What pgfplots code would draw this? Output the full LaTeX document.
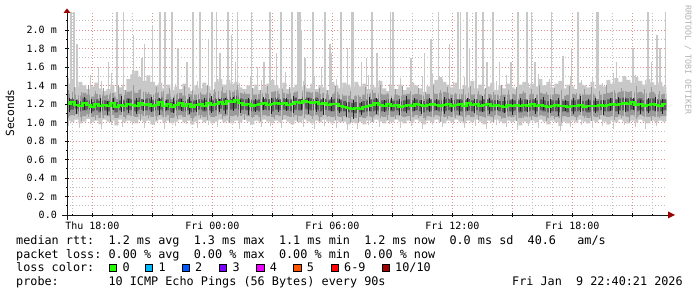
\documentclass[border=0pt]{standalone}
\usepackage{pgfplots}
\pgfplotsset{compat=1.18}
\usepackage{pgfplotstable}
\usepgfplotslibrary{fillbetween}
\usepackage{fontspec}
\setmainfont{DejaVu Sans Mono}
\newfontfamily\mono{DejaVu Sans Mono}
\newcommand\legfont{\mono\fontsize{11.8pt}{14pt}\selectfont}
\newcommand\tickfont{\mono\fontsize{10pt}{12pt}\selectfont}
\definecolor{smokeA}{HTML}{C8C8C8}
\definecolor{smokeB}{HTML}{9A9A9A}
\definecolor{smokeC}{HTML}{5C5C5C}
\definecolor{smokeD}{HTML}{202020}
\definecolor{medgreen}{HTML}{26FF00}
\definecolor{mgrid}{HTML}{E98C8C}
\definecolor{ngrid}{HTML}{C0C0C0}
\definecolor{arrowred}{HTML}{990000}
\definecolor{lc1}{HTML}{00B8FF}
\definecolor{lc2}{HTML}{0059FF}
\definecolor{lc3}{HTML}{7E00FF}
\definecolor{lc4}{HTML}{EE00FF}
\definecolor{lc5}{HTML}{FF5500}
\definecolor{lc6}{HTML}{FF0000}
\definecolor{lc10}{HTML}{A10000}
\pgfplotstableread{
h a b c m d e f
16.7 1.02 1.07 1.13 1.20 1.25 1.31 1.42
16.9 1.00 1.08 1.14 1.22 1.27 1.33 1.46
17.1 1.03 1.09 1.15 1.19 1.24 1.30 1.38
17.3 0.99 1.06 1.12 1.18 1.23 1.29 1.44
17.5 1.01 1.07 1.13 1.21 1.26 1.32 1.40
17.7 1.04 1.09 1.14 1.19 1.24 1.30 1.36
17.9 1.00 1.06 1.12 1.17 1.22 1.28 1.39
18.1 1.02 1.08 1.13 1.20 1.25 1.31 1.43
18.3 0.98 1.05 1.11 1.18 1.23 1.30 1.37
18.5 1.03 1.08 1.13 1.19 1.24 1.29 1.34
18.7 1.01 1.07 1.12 1.18 1.23 1.30 1.36
18.9 1.02 1.08 1.14 1.21 1.26 1.32 1.41
19.1 0.97 1.05 1.11 1.17 1.22 1.28 1.33
19.3 1.03 1.08 1.13 1.19 1.24 1.31 1.38
19.5 1.00 1.06 1.12 1.18 1.24 1.30 1.35
19.7 1.02 1.08 1.14 1.20 1.26 1.33 1.47
19.9 1.01 1.07 1.13 1.19 1.25 1.34 1.52
20.1 0.99 1.06 1.12 1.18 1.24 1.32 1.56
20.3 1.03 1.09 1.14 1.21 1.27 1.35 1.49
20.5 1.00 1.07 1.13 1.19 1.25 1.33 1.45
20.7 1.02 1.08 1.13 1.20 1.26 1.31 1.51
20.9 0.98 1.06 1.12 1.18 1.24 1.30 1.44
21.1 1.01 1.07 1.13 1.19 1.25 1.32 1.40
21.3 1.03 1.08 1.14 1.22 1.27 1.33 1.43
21.5 1.00 1.06 1.12 1.18 1.23 1.29 1.37
21.7 1.02 1.08 1.13 1.20 1.25 1.31 1.41
21.9 0.99 1.05 1.11 1.17 1.22 1.28 1.35
22.1 1.01 1.07 1.13 1.19 1.24 1.30 1.39
22.3 1.03 1.08 1.14 1.21 1.26 1.32 1.36
22.5 1.00 1.06 1.12 1.18 1.23 1.29 1.42
22.7 1.02 1.08 1.13 1.20 1.25 1.31 1.38
22.9 0.98 1.05 1.11 1.17 1.23 1.30 1.34
23.1 1.01 1.07 1.13 1.19 1.24 1.30 1.40
23.3 1.03 1.08 1.14 1.20 1.25 1.31 1.37
23.5 1.00 1.06 1.12 1.18 1.24 1.30 1.43
23.7 1.02 1.08 1.13 1.21 1.26 1.32 1.39
23.9 0.99 1.06 1.12 1.19 1.24 1.31 1.35
24.1 1.01 1.07 1.13 1.20 1.26 1.33 1.44
24.3 1.03 1.09 1.15 1.22 1.27 1.34 1.47
24.5 1.00 1.07 1.13 1.20 1.26 1.32 1.41
24.7 1.02 1.08 1.14 1.23 1.28 1.35 1.46
24.9 0.99 1.07 1.14 1.22 1.27 1.33 1.42
25.1 1.02 1.08 1.15 1.24 1.29 1.35 1.44
25.3 1.00 1.07 1.13 1.21 1.26 1.32 1.38
25.5 1.03 1.09 1.14 1.19 1.25 1.31 1.36
25.7 1.01 1.07 1.13 1.20 1.25 1.31 1.40
25.9 0.98 1.06 1.12 1.18 1.24 1.30 1.37
26.1 1.02 1.08 1.13 1.19 1.24 1.30 1.41
26.3 1.00 1.06 1.12 1.20 1.25 1.31 1.35
26.5 1.03 1.08 1.14 1.21 1.26 1.32 1.39
26.7 1.01 1.07 1.13 1.19 1.25 1.31 1.42
26.9 0.99 1.06 1.12 1.20 1.26 1.33 1.46
27.1 1.02 1.08 1.14 1.21 1.27 1.34 1.40
27.3 1.00 1.07 1.13 1.20 1.25 1.31 1.37
27.5 1.03 1.08 1.14 1.21 1.26 1.32 1.43
27.7 1.01 1.07 1.13 1.19 1.25 1.31 1.36
27.9 0.98 1.06 1.12 1.20 1.25 1.32 1.38
28.1 1.02 1.08 1.14 1.22 1.27 1.33 1.41
28.3 1.00 1.07 1.13 1.21 1.26 1.32 1.35
28.5 1.03 1.09 1.15 1.23 1.28 1.34 1.39
28.7 1.01 1.08 1.14 1.22 1.27 1.33 1.37
28.9 0.99 1.07 1.13 1.21 1.26 1.32 1.42
29.1 1.02 1.08 1.14 1.22 1.27 1.33 1.36
29.3 1.00 1.06 1.12 1.20 1.25 1.31 1.40
29.5 1.03 1.08 1.14 1.21 1.26 1.32 1.38
29.7 1.01 1.07 1.13 1.19 1.24 1.30 1.35
29.9 0.99 1.06 1.12 1.20 1.25 1.31 1.44
30.1 1.02 1.07 1.13 1.20 1.26 1.33 1.40
30.3 1.00 1.06 1.12 1.18 1.24 1.30 1.37
30.5 1.01 1.07 1.12 1.17 1.23 1.29 1.43
30.7 0.98 1.05 1.11 1.16 1.22 1.29 1.41
30.9 1.00 1.06 1.11 1.15 1.21 1.28 1.38
31.1 0.99 1.05 1.10 1.16 1.22 1.29 1.44
31.3 1.01 1.06 1.11 1.15 1.21 1.28 1.39
31.5 0.98 1.05 1.11 1.17 1.23 1.30 1.42
31.7 1.02 1.07 1.12 1.18 1.24 1.31 1.36
31.9 1.00 1.06 1.12 1.19 1.25 1.32 1.40
32.1 1.03 1.08 1.13 1.21 1.26 1.32 1.38
32.3 1.01 1.07 1.12 1.19 1.24 1.31 1.45
32.5 0.99 1.06 1.12 1.18 1.24 1.30 1.37
32.7 1.02 1.08 1.13 1.20 1.25 1.31 1.34
32.9 1.00 1.06 1.12 1.18 1.23 1.29 1.39
33.1 1.03 1.08 1.13 1.19 1.24 1.30 1.36
33.3 1.01 1.07 1.12 1.17 1.23 1.29 1.41
33.5 0.99 1.06 1.12 1.18 1.24 1.30 1.35
33.7 1.02 1.07 1.13 1.19 1.25 1.31 1.38
33.9 1.00 1.06 1.12 1.18 1.24 1.30 1.43
34.1 1.03 1.08 1.13 1.20 1.25 1.31 1.40
34.3 1.01 1.07 1.12 1.19 1.24 1.30 1.37
34.5 0.98 1.05 1.11 1.18 1.23 1.29 1.33
34.7 1.02 1.07 1.13 1.19 1.25 1.31 1.39
34.9 1.00 1.06 1.12 1.20 1.25 1.32 1.42
35.1 1.03 1.08 1.13 1.19 1.24 1.31 1.46
35.3 1.01 1.07 1.12 1.18 1.24 1.32 1.49
35.5 0.99 1.06 1.12 1.19 1.25 1.33 1.44
35.7 1.02 1.07 1.13 1.20 1.26 1.32 1.41
35.9 1.00 1.06 1.12 1.18 1.24 1.30 1.38
36.1 1.03 1.08 1.13 1.19 1.25 1.31 1.43
36.3 1.01 1.07 1.12 1.20 1.25 1.31 1.36
36.5 0.99 1.06 1.12 1.18 1.24 1.30 1.40
36.7 1.02 1.08 1.13 1.21 1.26 1.32 1.38
36.9 1.00 1.06 1.12 1.19 1.24 1.30 1.45
37.1 1.03 1.08 1.13 1.20 1.25 1.31 1.37
37.3 1.01 1.07 1.12 1.18 1.24 1.30 1.41
37.5 0.98 1.06 1.12 1.19 1.25 1.31 1.36
37.7 1.02 1.07 1.13 1.20 1.25 1.31 1.39
37.9 1.00 1.06 1.12 1.18 1.24 1.30 1.43
38.1 1.03 1.08 1.13 1.19 1.24 1.30 1.35
38.3 1.01 1.07 1.12 1.18 1.23 1.29 1.40
38.5 0.99 1.05 1.11 1.17 1.23 1.30 1.37
38.7 1.02 1.07 1.12 1.19 1.24 1.30 1.42
38.9 1.00 1.06 1.12 1.18 1.24 1.31 1.38
39.1 1.02 1.08 1.13 1.19 1.24 1.30 1.36
39.3 0.97 1.05 1.11 1.18 1.24 1.31 1.41
39.5 1.01 1.07 1.12 1.19 1.25 1.32 1.44
39.7 0.99 1.06 1.12 1.18 1.24 1.30 1.38
39.9 1.02 1.07 1.13 1.20 1.25 1.31 1.42
40.1 1.00 1.06 1.12 1.18 1.24 1.30 1.39
40.3 1.03 1.08 1.13 1.19 1.25 1.32 1.47
40.5 1.01 1.07 1.12 1.18 1.24 1.31 1.40
40.7 0.98 1.05 1.11 1.17 1.23 1.30 1.44
40.9 1.02 1.07 1.12 1.18 1.24 1.30 1.38
41.1 1.00 1.06 1.12 1.19 1.24 1.31 1.42
41.3 0.96 1.05 1.11 1.18 1.24 1.30 1.45
41.5 1.01 1.07 1.12 1.18 1.23 1.29 1.37
41.7 0.99 1.06 1.11 1.17 1.23 1.30 1.41
41.9 1.02 1.07 1.12 1.18 1.24 1.31 1.39
42.1 1.00 1.06 1.12 1.18 1.24 1.30 1.36
42.3 1.03 1.08 1.13 1.19 1.25 1.31 1.43
42.5 1.01 1.07 1.12 1.17 1.23 1.30 1.40
42.7 0.99 1.05 1.11 1.18 1.24 1.30 1.38
42.9 1.02 1.07 1.12 1.18 1.24 1.31 1.44
43.1 1.00 1.06 1.12 1.18 1.23 1.29 1.37
43.3 1.03 1.08 1.13 1.19 1.24 1.30 1.41
43.5 1.01 1.07 1.12 1.18 1.24 1.31 1.39
43.7 0.98 1.06 1.12 1.19 1.25 1.32 1.46
43.9 1.02 1.07 1.13 1.20 1.26 1.33 1.42
44.1 1.00 1.06 1.12 1.19 1.25 1.32 1.48
44.3 1.03 1.08 1.13 1.20 1.26 1.33 1.44
44.5 1.01 1.07 1.13 1.21 1.27 1.34 1.50
44.7 0.99 1.06 1.12 1.20 1.26 1.33 1.46
44.9 1.02 1.08 1.14 1.22 1.27 1.34 1.43
45.1 1.00 1.06 1.12 1.19 1.25 1.32 1.49
45.3 1.03 1.08 1.13 1.20 1.26 1.33 1.45
45.5 1.01 1.07 1.12 1.18 1.24 1.31 1.41
45.7 0.99 1.06 1.12 1.19 1.25 1.32 1.47
45.9 1.02 1.07 1.13 1.20 1.26 1.33 1.43
46.1 1.00 1.06 1.12 1.19 1.25 1.31 1.40
46.3 1.02 1.07 1.12 1.18 1.24 1.30 1.44
46.5 1.01 1.07 1.13 1.20 1.25 1.31 1.39
46.7 1.01 1.07 1.13 1.20 1.25 1.31 1.39
}\smoke
\begin{document}
\frenchspacing
\begin{tikzpicture}[x=1pt,y=1pt]
\begin{axis}[
  at={(67pt,82pt)}, anchor=south west, scale only axis,
  width=600pt, height=202pt,
  xmin=16.73, xmax=46.73, ymin=0, ymax=2.1838,
  axis line style={draw=none},
  tick pos=left, tick align=center,
  xtick={18,21,24,27,30,33,36,39,42,45},
  xticklabels={Thu 18:00,,Fri 00:00,,Fri 06:00,,Fri 12:00,,Fri 18:00,},
  minor xtick={17,...,46},
  ytick={0,0.2,0.4,0.6,0.8,1.0,1.2,1.4,1.6,1.8,2.0},
  yticklabels={0.0,0.2 m,0.4 m,0.6 m,0.8 m,1.0 m,1.2 m,1.4 m,1.6 m,1.8 m,2.0 m},
  minor ytick={0.1,0.3,0.5,0.7,0.9,1.1,1.3,1.5,1.7,1.9,2.1},
  grid=both,
  major grid style={draw=mgrid, dash pattern=on 1pt off 2pt, line width=0.8pt},
  minor grid style={draw=ngrid, dash pattern=on 1pt off 2pt, line width=0.8pt},
  major tick length=4pt, minor tick length=2pt,
  tick style={draw=black, line width=0.6pt},
  ticklabel style={font=\tickfont, inner sep=0pt},
  xticklabel shift=5pt, yticklabel shift=8pt,
]
\addplot[name path=pa, draw=none, const plot] table[x=h, y=a] {\smoke};
\addplot[name path=pf, draw=none, const plot] table[x=h, y=f] {\smoke};
\addplot[fill=smokeA, draw=none] fill between[of=pa and pf];
% light whiskers
\addplot[mark=none, draw=none, error bars/.cd, y dir=both, y explicit, error mark=none,
  error bar style={draw=smokeA, line width=1.3pt}]
  coordinates {
  (16.82,1.2) += (0,0.28) -= (0,0.24) (17.35,1.2) += (0,0.22) -= (0,0.26)
  (17.90,1.2) += (0,0.31) -= (0,0.22) (18.45,1.2) += (0,0.25) -= (0,0.27)
  (18.95,1.2) += (0,0.33) -= (0,0.23) (19.50,1.2) += (0,0.21) -= (0,0.25)
  (20.00,1.2) += (0,0.36) -= (0,0.22) (20.60,1.2) += (0,0.27) -= (0,0.26)
  (21.10,1.2) += (0,0.24) -= (0,0.23) (21.60,1.2) += (0,0.30) -= (0,0.27)
  (22.15,1.2) += (0,0.22) -= (0,0.24) (22.70,1.2) += (0,0.28) -= (0,0.22)
  (23.25,1.2) += (0,0.25) -= (0,0.26) (23.80,1.2) += (0,0.32) -= (0,0.23)
  (24.25,1.2) += (0,0.27) -= (0,0.25) (24.80,1.2) += (0,0.34) -= (0,0.21)
  (25.35,1.2) += (0,0.23) -= (0,0.27) (25.90,1.2) += (0,0.29) -= (0,0.23)
  (26.45,1.2) += (0,0.26) -= (0,0.25) (26.90,1.2) += (0,0.31) -= (0,0.24)
  (27.45,1.2) += (0,0.22) -= (0,0.26) (28.00,1.2) += (0,0.28) -= (0,0.22)
  (28.55,1.2) += (0,0.25) -= (0,0.25) (29.10,1.2) += (0,0.30) -= (0,0.27)
  (29.60,1.2) += (0,0.23) -= (0,0.24) (30.20,1.2) += (0,0.27) -= (0,0.26)
  (30.75,1.2) += (0,0.29) -= (0,0.28) (31.25,1.2) += (0,0.24) -= (0,0.27)
  (31.80,1.2) += (0,0.31) -= (0,0.23) (32.35,1.2) += (0,0.26) -= (0,0.25)
  (32.85,1.2) += (0,0.22) -= (0,0.22) (33.40,1.2) += (0,0.28) -= (0,0.26)
  (33.95,1.2) += (0,0.25) -= (0,0.24) (34.50,1.2) += (0,0.30) -= (0,0.27)
  (35.00,1.2) += (0,0.33) -= (0,0.23) (35.50,1.2) += (0,0.27) -= (0,0.25)
  (36.05,1.2) += (0,0.24) -= (0,0.22) (36.60,1.2) += (0,0.29) -= (0,0.26)
  (37.15,1.2) += (0,0.22) -= (0,0.24) (37.70,1.2) += (0,0.28) -= (0,0.27)
  (38.20,1.2) += (0,0.25) -= (0,0.23) (38.70,1.2) += (0,0.31) -= (0,0.25)
  (39.25,1.2) += (0,0.26) -= (0,0.28) (39.80,1.2) += (0,0.23) -= (0,0.24)
  (40.30,1.2) += (0,0.32) -= (0,0.26) (40.85,1.2) += (0,0.27) -= (0,0.22)
  (41.40,1.2) += (0,0.24) -= (0,0.29) (41.90,1.2) += (0,0.30) -= (0,0.25)
  (42.45,1.2) += (0,0.26) -= (0,0.23) (43.00,1.2) += (0,0.29) -= (0,0.26)
  (43.50,1.2) += (0,0.23) -= (0,0.24) (44.05,1.2) += (0,0.33) -= (0,0.27)
  (44.60,1.2) += (0,0.28) -= (0,0.23) (45.15,1.2) += (0,0.31) -= (0,0.25)
  (45.65,1.2) += (0,0.26) -= (0,0.27) (46.20,1.2) += (0,0.34) -= (0,0.24)
  };
% spikes
\addplot[mark=none, draw=none,
  error bars/.cd, y dir=plus, y explicit, error mark=none,
  error bar style={line width=1.6pt, draw=smokeA}]
  coordinates {
  (16.94,1.25) +- (0,1.0) (17.09,1.25) +- (0,1.0) (17.23,1.25) +- (0,0.6)
  (18.31,1.25) +- (0,0.35) (18.81,1.25) +- (0,0.4) (19.23,1.25) +- (0,1.0)
  (19.56,1.25) +- (0,1.0) (20.06,1.25) +- (0,0.7) (20.48,1.25) +- (0,0.45)
  (20.61,1.25) +- (0,0.6) (21.01,1.25) +- (0,0.8) (21.39,1.25) +- (0,1.0)
  (21.64,1.25) +- (0,1.0) (21.98,1.25) +- (0,1.0) (22.28,1.25) +- (0,0.55)
  (22.73,1.25) +- (0,0.4) (23.03,1.25) +- (0,1.0) (23.39,1.25) +- (0,1.0)
  (23.81,1.25) +- (0,0.65) (23.98,1.25) +- (0,1.0) (24.21,1.25) +- (0,1.0)
  (24.38,1.25) +- (0,0.5) (24.79,1.25) +- (0,1.0) (24.96,1.25) +- (0,0.7)
  (25.16,1.25) +- (0,0.4) (25.26,1.25) +- (0,1.0) (25.96,1.25) +- (0,1.0)
  (26.26,1.25) +- (0,0.35) (26.59,1.25) +- (0,0.4) (26.88,1.25) +- (0,1.0)
  (27.21,1.25) +- (0,0.5) (27.43,1.25) +- (0,1.0) (27.66,1.25) +- (0,0.3)
  (27.99,1.25) +- (0,1.0) (28.29,1.25) +- (0,1.0) (28.38,1.25) +- (0,1.0)
  (28.43,1.25) +- (0,0.75) (28.63,1.25) +- (0,0.45) (29.04,1.25) +- (0,1.0)
  (29.46,1.25) +- (0,0.35) (29.63,1.25) +- (0,1.0) (29.88,1.25) +- (0,0.6)
  (29.96,1.25) +- (0,0.5) (30.43,1.25) +- (0,1.0) (30.76,1.25) +- (0,0.55)
  (30.96,1.25) +- (0,1.0) (31.04,1.25) +- (0,1.0) (31.46,1.25) +- (0,0.4)
  (31.71,1.25) +- (0,0.45) (31.98,1.25) +- (0,1.0) (32.24,1.25) +- (0,0.5)
  (32.91,1.25) +- (0,1.0) (33.03,1.25) +- (0,1.0) (33.94,1.25) +- (0,0.45)
  (34.61,1.25) +- (0,0.5) (34.94,1.25) +- (0,0.65) (35.31,1.25) +- (0,1.0)
  (35.86,1.25) +- (0,0.6) (36.28,1.25) +- (0,1.0) (36.41,1.25) +- (0,1.0)
  (36.73,1.25) +- (0,1.0) (36.86,1.25) +- (0,0.55) (37.19,1.25) +- (0,1.0)
  (37.53,1.25) +- (0,1.0) (37.74,1.25) +- (0,0.4) (38.03,1.25) +- (0,1.0)
  (38.36,1.25) +- (0,0.4) (38.94,1.25) +- (0,0.4) (39.28,1.25) +- (0,1.0)
  (39.74,1.25) +- (0,1.0) (39.96,1.25) +- (0,1.0) (40.13,1.25) +- (0,0.4)
  (40.96,1.25) +- (0,1.0) (41.54,1.25) +- (0,0.47) (41.96,1.25) +- (0,0.55)
  (42.29,1.25) +- (0,1.0) (43.24,1.25) +- (0,1.0) (43.30,1.25) +- (0,1.0)
  (44.21,1.25) +- (0,0.4) (45.04,1.25) +- (0,0.55) (45.79,1.25) +- (0,1.0)
  (45.96,1.25) +- (0,0.4) (46.24,1.25) +- (0,0.7) (46.38,1.25) +- (0,0.55)
  (46.66,1.25) +- (0,1.0)
  };
\addplot[name path=pb, draw=none, const plot] table[x=h, y=b] {\smoke};
\addplot[name path=pe, draw=none, const plot] table[x=h, y=e] {\smoke};
\addplot[fill=smokeB, draw=none] fill between[of=pb and pe];
% mid whiskers
\addplot[mark=none, draw=none, error bars/.cd, y dir=both, y explicit, error mark=none,
  error bar style={draw=smokeB, line width=1.2pt}]
  coordinates {
  (16.78,1.19) += (0,0.16) -= (0,0.14) (17.10,1.19) += (0,0.19) -= (0,0.12)
  (17.45,1.19) += (0,0.14) -= (0,0.17) (17.80,1.19) += (0,0.21) -= (0,0.13)
  (18.15,1.19) += (0,0.15) -= (0,0.16) (18.55,1.19) += (0,0.18) -= (0,0.14)
  (18.90,1.19) += (0,0.13) -= (0,0.18) (19.30,1.19) += (0,0.20) -= (0,0.13)
  (19.65,1.19) += (0,0.16) -= (0,0.15) (20.05,1.19) += (0,0.22) -= (0,0.12)
  (20.40,1.19) += (0,0.17) -= (0,0.17) (20.80,1.19) += (0,0.14) -= (0,0.14)
  (21.20,1.19) += (0,0.19) -= (0,0.16) (21.55,1.19) += (0,0.15) -= (0,0.13)
  (21.85,1.19) += (0,0.18) -= (0,0.18) (22.25,1.19) += (0,0.13) -= (0,0.15)
  (22.60,1.19) += (0,0.20) -= (0,0.12) (23.00,1.19) += (0,0.16) -= (0,0.17)
  (23.40,1.19) += (0,0.14) -= (0,0.14) (23.75,1.19) += (0,0.21) -= (0,0.16)
  (24.10,1.19) += (0,0.17) -= (0,0.13) (24.50,1.19) += (0,0.19) -= (0,0.15)
  (24.85,1.19) += (0,0.15) -= (0,0.18) (25.25,1.19) += (0,0.22) -= (0,0.13)
  (25.60,1.19) += (0,0.14) -= (0,0.16) (26.00,1.19) += (0,0.18) -= (0,0.14)
  (26.40,1.19) += (0,0.16) -= (0,0.17) (26.75,1.19) += (0,0.20) -= (0,0.12)
  (27.10,1.19) += (0,0.13) -= (0,0.15) (27.50,1.19) += (0,0.17) -= (0,0.16)
  (27.85,1.19) += (0,0.19) -= (0,0.13) (28.25,1.19) += (0,0.15) -= (0,0.18)
  (28.60,1.19) += (0,0.21) -= (0,0.14) (29.00,1.19) += (0,0.14) -= (0,0.15)
  (29.35,1.19) += (0,0.18) -= (0,0.17) (29.75,1.19) += (0,0.16) -= (0,0.13)
  (30.15,1.19) += (0,0.20) -= (0,0.16) (30.50,1.16) += (0,0.15) -= (0,0.14)
  (30.90,1.16) += (0,0.18) -= (0,0.17) (31.30,1.16) += (0,0.14) -= (0,0.15)
  (31.65,1.19) += (0,0.19) -= (0,0.13) (32.00,1.19) += (0,0.16) -= (0,0.18)
  (32.40,1.19) += (0,0.22) -= (0,0.14) (32.75,1.19) += (0,0.13) -= (0,0.16)
  (33.15,1.19) += (0,0.17) -= (0,0.15) (33.50,1.19) += (0,0.20) -= (0,0.12)
  (33.90,1.19) += (0,0.15) -= (0,0.17) (34.30,1.19) += (0,0.18) -= (0,0.14)
  (34.65,1.19) += (0,0.14) -= (0,0.16) (35.05,1.19) += (0,0.21) -= (0,0.13)
  (35.40,1.19) += (0,0.16) -= (0,0.18) (35.75,1.19) += (0,0.19) -= (0,0.15)
  (36.15,1.19) += (0,0.13) -= (0,0.14) (36.55,1.19) += (0,0.17) -= (0,0.17)
  (36.90,1.19) += (0,0.20) -= (0,0.13) (37.30,1.19) += (0,0.15) -= (0,0.16)
  (37.65,1.19) += (0,0.18) -= (0,0.14) (38.05,1.19) += (0,0.14) -= (0,0.18)
  (38.45,1.19) += (0,0.21) -= (0,0.15) (38.80,1.19) += (0,0.16) -= (0,0.13)
  (39.20,1.19) += (0,0.19) -= (0,0.17) (39.55,1.19) += (0,0.15) -= (0,0.14)
  (39.95,1.19) += (0,0.17) -= (0,0.16) (40.35,1.19) += (0,0.22) -= (0,0.12)
  (40.70,1.19) += (0,0.14) -= (0,0.17) (41.10,1.19) += (0,0.18) -= (0,0.15)
  (41.45,1.19) += (0,0.16) -= (0,0.18) (41.85,1.19) += (0,0.20) -= (0,0.13)
  (42.20,1.19) += (0,0.13) -= (0,0.16) (42.60,1.19) += (0,0.17) -= (0,0.14)
  (42.95,1.19) += (0,0.19) -= (0,0.17) (43.35,1.19) += (0,0.15) -= (0,0.15)
  (43.70,1.19) += (0,0.21) -= (0,0.13) (44.10,1.19) += (0,0.16) -= (0,0.16)
  (44.45,1.19) += (0,0.18) -= (0,0.14) (44.85,1.19) += (0,0.14) -= (0,0.18)
  (45.20,1.19) += (0,0.20) -= (0,0.15) (45.60,1.19) += (0,0.17) -= (0,0.13)
  (45.95,1.19) += (0,0.19) -= (0,0.17) (46.35,1.19) += (0,0.15) -= (0,0.14)
  };
\addplot[name path=pc, draw=none, const plot] table[x=h, y=c] {\smoke};
\addplot[name path=pd, draw=none, const plot] table[x=h, y=d] {\smoke};
\addplot[fill=smokeC, draw=none] fill between[of=pc and pd];
% dark whiskers
\addplot[mark=none, draw=none, error bars/.cd, y dir=both, y explicit, error mark=none,
  error bar style={draw=smokeD, line width=1.1pt}]
  coordinates {
  (16.85,1.19) += (0,0.07) -= (0,0.08) (17.20,1.19) += (0,0.05) -= (0,0.10)
  (17.60,1.19) += (0,0.09) -= (0,0.06) (17.95,1.19) += (0,0.06) -= (0,0.09)
  (18.40,1.19) += (0,0.08) -= (0,0.07) (18.75,1.19) += (0,0.04) -= (0,0.11)
  (19.05,1.19) += (0,0.07) -= (0,0.06) (19.45,1.19) += (0,0.10) -= (0,0.08)
  (19.80,1.19) += (0,0.06) -= (0,0.09) (20.20,1.19) += (0,0.08) -= (0,0.10)
  (20.55,1.19) += (0,0.05) -= (0,0.07) (20.95,1.19) += (0,0.09) -= (0,0.08)
  (21.35,1.19) += (0,0.07) -= (0,0.11) (21.70,1.19) += (0,0.05) -= (0,0.06)
  (22.05,1.19) += (0,0.08) -= (0,0.09) (22.45,1.19) += (0,0.06) -= (0,0.07)
  (22.85,1.19) += (0,0.09) -= (0,0.10) (23.20,1.19) += (0,0.05) -= (0,0.08)
  (23.60,1.19) += (0,0.07) -= (0,0.06) (23.95,1.19) += (0,0.10) -= (0,0.09)
  (24.35,1.19) += (0,0.06) -= (0,0.08) (24.65,1.19) += (0,0.08) -= (0,0.10)
  (25.05,1.19) += (0,0.09) -= (0,0.07) (25.40,1.19) += (0,0.05) -= (0,0.09)
  (25.80,1.19) += (0,0.07) -= (0,0.11) (26.15,1.19) += (0,0.06) -= (0,0.08)
  (26.55,1.19) += (0,0.09) -= (0,0.06) (26.95,1.19) += (0,0.07) -= (0,0.10)
  (27.30,1.19) += (0,0.05) -= (0,0.08) (27.70,1.19) += (0,0.08) -= (0,0.07)
  (28.05,1.19) += (0,0.10) -= (0,0.09) (28.45,1.19) += (0,0.06) -= (0,0.06)
  (28.80,1.19) += (0,0.08) -= (0,0.10) (29.20,1.19) += (0,0.05) -= (0,0.08)
  (29.55,1.19) += (0,0.07) -= (0,0.11) (29.95,1.19) += (0,0.09) -= (0,0.07)
  (30.35,1.19) += (0,0.06) -= (0,0.09) (30.70,1.16) += (0,0.05) -= (0,0.10)
  (31.05,1.16) += (0,0.08) -= (0,0.12) (31.45,1.16) += (0,0.06) -= (0,0.08)
  (31.85,1.19) += (0,0.09) -= (0,0.07) (32.20,1.19) += (0,0.07) -= (0,0.10)
  (32.60,1.19) += (0,0.05) -= (0,0.08) (32.95,1.19) += (0,0.08) -= (0,0.06)
  (33.35,1.19) += (0,0.06) -= (0,0.11) (33.70,1.19) += (0,0.10) -= (0,0.09)
  (34.10,1.19) += (0,0.07) -= (0,0.07) (34.45,1.19) += (0,0.05) -= (0,0.10)
  (34.85,1.19) += (0,0.08) -= (0,0.08) (35.20,1.19) += (0,0.06) -= (0,0.06)
  (35.60,1.19) += (0,0.09) -= (0,0.10) (35.95,1.19) += (0,0.07) -= (0,0.08)
  (36.35,1.19) += (0,0.05) -= (0,0.11) (36.75,1.19) += (0,0.08) -= (0,0.07)
  (37.10,1.19) += (0,0.06) -= (0,0.09) (37.50,1.19) += (0,0.10) -= (0,0.08)
  (37.85,1.19) += (0,0.07) -= (0,0.10) (38.25,1.19) += (0,0.05) -= (0,0.06)
  (38.60,1.19) += (0,0.09) -= (0,0.09) (39.00,1.19) += (0,0.06) -= (0,0.11)
  (39.40,1.19) += (0,0.08) -= (0,0.07) (39.75,1.19) += (0,0.05) -= (0,0.08)
  (40.15,1.19) += (0,0.07) -= (0,0.10) (40.55,1.19) += (0,0.09) -= (0,0.06)
  (40.90,1.19) += (0,0.06) -= (0,0.09) (41.30,1.19) += (0,0.08) -= (0,0.12)
  (41.65,1.19) += (0,0.05) -= (0,0.07) (42.05,1.19) += (0,0.07) -= (0,0.10)
  (42.40,1.19) += (0,0.10) -= (0,0.08) (42.80,1.19) += (0,0.06) -= (0,0.06)
  (43.15,1.19) += (0,0.08) -= (0,0.09) (43.55,1.19) += (0,0.05) -= (0,0.11)
  (43.90,1.19) += (0,0.07) -= (0,0.07) (44.30,1.19) += (0,0.09) -= (0,0.10)
  (44.65,1.19) += (0,0.06) -= (0,0.08) (45.05,1.19) += (0,0.08) -= (0,0.06)
  (45.40,1.19) += (0,0.05) -= (0,0.10) (45.80,1.19) += (0,0.07) -= (0,0.09)
  (46.15,1.19) += (0,0.09) -= (0,0.07) (46.50,1.19) += (0,0.06) -= (0,0.10)
  };
\addplot[medgreen, line width=2.2pt, const plot, mark=none] table[x=h, y=m] {\smoke};
\end{axis}
% axis lines and arrows
\draw[black!90, line width=0.8pt] (62,82) -- (668,82);
\fill[arrowred] (668,85.5) -- (675,82) -- (668,78.5) -- cycle;
\draw[black!90, line width=0.8pt] (67,77) -- (67,284);
\fill[arrowred] (63.5,284) -- (67,288.5) -- (70.5,284) -- cycle;
% axis title and watermark
\node[rotate=90, font=\mono\fontsize{11.2pt}{13pt}\selectfont] at (10,184) {Seconds};
\node[rotate=-90, font=\mono\fontsize{8.3pt}{10pt}\selectfont, text=black!30] at (688,237) {RRDTOOL / TOBI OETIKER};
% legend
\begin{scope}[every node/.style={anchor=base west, inner sep=0pt, font=\legfont}]
\node at (16,52.5) {median rtt:~~1.2 ms avg~~1.3 ms max~~1.1 ms min~~1.2 ms now~~0.0 ms sd~~40.6~~~am/s};
\node at (16,38.7) {packet loss:~0.00 \% avg~~0.00 \% max~~0.00 \% min~~0.00 \% now};
\node at (16,25) {loss color:};
\node at (16,11.2) {probe:~~~~~~~10 ICMP Echo Pings (56 Bytes) every 90s};
\node at (512,11.2) {Fri Jan~~9 22:40:21 2026};
\node at (122.3,25) {0};
\node at (158.3,25) {1};
\node at (195,25) {2};
\node at (232.3,25) {3};
\node at (269.6,25) {4};
\node at (306.6,25) {5};
\node at (344,25) {6-9};
\node at (395,25) {10/10};
\end{scope}
\foreach \bx/\bc in {109/medgreen,145/lc1,181.7/lc2,219/lc3,256.3/lc4,293.3/lc5,330.7/lc6,381.7/lc10}{
  \filldraw[fill=\bc, draw=black, line width=0.8pt] (\bx+0.4,25.4) rectangle (\bx+7.6,32.6);
}
\pgfresetboundingbox
\path (0,0) rectangle (697,297);
\end{tikzpicture}
\end{document}
